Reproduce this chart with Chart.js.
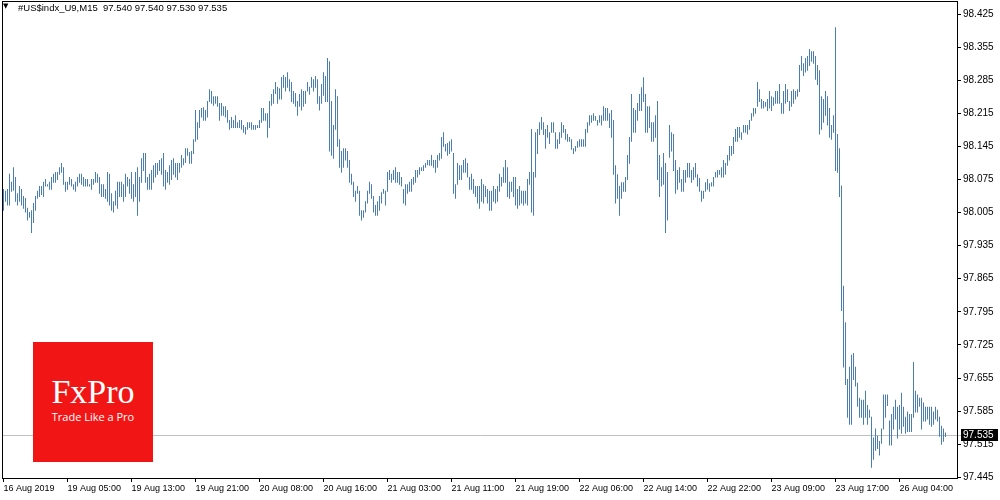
<!DOCTYPE html>
<html>
<head>
<meta charset="utf-8">
<script src="https://cdn.jsdelivr.net/npm/chart.js@4.4.0/dist/chart.umd.min.js"></script>
<style>
  html, body { margin: 0; padding: 0; background: #fff; }
  #wrap { position: relative; width: 1000px; height: 500px; overflow: hidden; }
  #title { position: absolute; left: 0; top: 0; width: 400px; height: 14px; color: #000; }
  #title .tri { position: absolute; left: 3px; top: 2px; font: 7px "DejaVu Sans", sans-serif; }
  #title .txt { position: absolute; left: 18px; top: 2px; font: 9.5px "Liberation Sans", sans-serif; white-space: pre; }
  #logo { position: absolute; left: 33px; top: 342px; width: 120px; height: 120px; background: #f21515; color: #fff; }
  #logo .fx { position: absolute; left: 0; right: 0; top: 33px; text-align: center; font: 34px/34px "Liberation Serif", serif; }
  #logo .tag { position: absolute; left: 0; right: 0; top: 68px; text-align: center; font: 11px/14px "Open Sans", sans-serif; }
</style>
</head>
<body>
<div id="wrap">
  <canvas id="chart" width="1000" height="500"></canvas>
  <div id="title"><span class="tri">▼</span><span class="txt">#US$indx_U9,M15  97.540 97.540 97.530 97.535</span></div>
  <div id="logo"><div class="fx">FxPro</div><div class="tag">Trade Like a Pro</div></div>
</div>
<script>
  // M15 bars, one entry per bar (high / low)
  const barHigh = [
    98.055, 98.051, 98.055, 98.087, 98.070, 98.101, 98.080, 98.046, 98.061, 98.055,
    98.040, 98.036, 98.015, 98.006, 98.010, 98.025, 98.040, 98.051, 98.061, 98.061,
    98.070, 98.076, 98.065, 98.070, 98.080, 98.087, 98.091, 98.091, 98.101, 98.110,
    98.101, 98.070, 98.070, 98.080, 98.076, 98.065, 98.070, 98.080, 98.087, 98.087,
    98.080, 98.076, 98.076, 98.065, 98.076, 98.076, 98.091, 98.087, 98.080, 98.065,
    98.065, 98.055, 98.091, 98.087, 98.046, 98.029, 98.051, 98.070, 98.070, 98.070,
    98.065, 98.087, 98.080, 98.076, 98.091, 98.065, 98.091, 98.101, 98.080, 98.120,
    98.131, 98.131, 98.080, 98.087, 98.095, 98.105, 98.110, 98.110, 98.116, 98.120,
    98.131, 98.095, 98.091, 98.105, 98.116, 98.120, 98.110, 98.110, 98.110, 98.127,
    98.120, 98.141, 98.141, 98.133, 98.135, 98.160, 98.222, 98.196, 98.222, 98.226,
    98.228, 98.222, 98.241, 98.266, 98.262, 98.251, 98.251, 98.251, 98.237, 98.237,
    98.230, 98.230, 98.222, 98.201, 98.207, 98.201, 98.211, 98.196, 98.201, 98.201,
    98.190, 98.186, 98.196, 98.196, 98.196, 98.190, 98.190, 98.190, 98.201, 98.226,
    98.226, 98.215, 98.215, 98.241, 98.256, 98.266, 98.281, 98.271, 98.268, 98.292,
    98.296, 98.292, 98.302, 98.287, 98.281, 98.262, 98.258, 98.241, 98.256, 98.266,
    98.262, 98.262, 98.281, 98.271, 98.292, 98.287, 98.294, 98.287, 98.251, 98.277,
    98.302, 98.294, 98.332, 98.325, 98.241, 98.190, 98.266, 98.251, 98.160, 98.135,
    98.141, 98.141, 98.135, 98.116, 98.087, 98.070, 98.051, 98.061, 98.051, 98.010,
    98.010, 98.029, 98.051, 98.070, 98.065, 98.040, 98.021, 98.029, 98.040, 98.048,
    98.055, 98.051, 98.091, 98.095, 98.087, 98.095, 98.101, 98.091, 98.091, 98.080,
    98.055, 98.065, 98.065, 98.070, 98.076, 98.080, 98.095, 98.095, 98.101, 98.101,
    98.105, 98.110, 98.116, 98.116, 98.127, 98.116, 98.116, 98.127, 98.131, 98.165,
    98.175, 98.150, 98.152, 98.156, 98.160, 98.131, 98.065, 98.110, 98.105, 98.105,
    98.116, 98.120, 98.110, 98.080, 98.087, 98.076, 98.061, 98.061, 98.061, 98.076,
    98.065, 98.061, 98.055, 98.051, 98.051, 98.061, 98.055, 98.061, 98.087, 98.080,
    98.101, 98.116, 98.101, 98.070, 98.070, 98.080, 98.080, 98.055, 98.061, 98.051,
    98.051, 98.051, 98.076, 98.091, 98.182, 98.091, 98.175, 98.182, 98.196, 98.207,
    98.196, 98.182, 98.190, 98.175, 98.196, 98.196, 98.175, 98.160, 98.175, 98.196,
    98.190, 98.182, 98.171, 98.165, 98.160, 98.141, 98.146, 98.156, 98.160, 98.160,
    98.160, 98.182, 98.196, 98.211, 98.211, 98.215, 98.209, 98.201, 98.211, 98.211,
    98.230, 98.226, 98.226, 98.215, 98.222, 98.201, 98.105, 98.086, 98.061, 98.069,
    98.069, 98.080, 98.127, 98.165, 98.256, 98.226, 98.222, 98.237, 98.256, 98.270,
    98.291, 98.256, 98.230, 98.230, 98.196, 98.196, 98.211, 98.241, 98.127, 98.101,
    98.131, 98.110, 98.091, 98.190, 98.175, 98.171, 98.116, 98.095, 98.101, 98.076,
    98.095, 98.095, 98.110, 98.110, 98.095, 98.101, 98.110, 98.086, 98.078, 98.051,
    98.051, 98.069, 98.076, 98.067, 98.069, 98.080, 98.091, 98.095, 98.095, 98.101,
    98.116, 98.110, 98.127, 98.146, 98.146, 98.165, 98.182, 98.186, 98.186, 98.175,
    98.190, 98.190, 98.190, 98.201, 98.215, 98.226, 98.226, 98.281, 98.266, 98.245,
    98.241, 98.239, 98.245, 98.262, 98.251, 98.249, 98.262, 98.262, 98.277, 98.237,
    98.262, 98.277, 98.266, 98.241, 98.262, 98.266, 98.262, 98.266, 98.317, 98.336,
    98.321, 98.332, 98.336, 98.351, 98.346, 98.346, 98.336, 98.317, 98.306, 98.251,
    98.245, 98.262, 98.251, 98.226, 98.190, 98.211, 98.397, 98.171, 98.141, 98.062,
    97.850, 97.773, 97.653, 97.679, 97.704, 97.708, 97.679, 97.645, 97.613, 97.609,
    97.609, 97.628, 97.598, 97.588, 97.573, 97.529, 97.548, 97.533, 97.522, 97.548,
    97.620, 97.620, 97.620, 97.565, 97.579, 97.594, 97.609, 97.594, 97.598, 97.624,
    97.594, 97.573, 97.584, 97.579, 97.579, 97.689, 97.628, 97.620, 97.613, 97.613,
    97.603, 97.594, 97.594, 97.594, 97.594, 97.584, 97.594, 97.588, 97.573, 97.554,
    97.548, 97.540
  ];
  const barLow = [
    98.009, 98.028, 98.020, 98.020, 98.049, 98.051, 98.028, 98.020, 98.028, 98.020,
    98.013, 98.005, 97.988, 97.994, 97.962, 97.983, 98.009, 98.034, 98.038, 98.042,
    98.038, 98.060, 98.060, 98.053, 98.053, 98.068, 98.068, 98.074, 98.085, 98.089,
    98.064, 98.049, 98.053, 98.064, 98.060, 98.053, 98.049, 98.060, 98.068, 98.064,
    98.060, 98.060, 98.060, 98.060, 98.053, 98.064, 98.068, 98.068, 98.045, 98.038,
    98.038, 98.034, 98.028, 98.020, 98.009, 98.005, 98.020, 98.013, 98.038, 98.038,
    98.028, 98.038, 98.060, 98.045, 98.034, 98.028, 98.038, 97.998, 98.028, 98.068,
    98.093, 98.068, 98.053, 98.053, 98.053, 98.068, 98.079, 98.085, 98.093, 98.085,
    98.060, 98.053, 98.068, 98.064, 98.074, 98.085, 98.079, 98.074, 98.089, 98.100,
    98.105, 98.110, 98.125, 98.108, 98.108, 98.129, 98.155, 98.159, 98.184, 98.206,
    98.199, 98.199, 98.206, 98.239, 98.235, 98.231, 98.235, 98.229, 98.199, 98.210,
    98.210, 98.206, 98.195, 98.180, 98.184, 98.184, 98.184, 98.184, 98.184, 98.180,
    98.174, 98.170, 98.180, 98.184, 98.180, 98.180, 98.180, 98.184, 98.184, 98.195,
    98.199, 98.199, 98.163, 98.184, 98.231, 98.235, 98.256, 98.235, 98.244, 98.244,
    98.269, 98.261, 98.269, 98.261, 98.239, 98.235, 98.229, 98.210, 98.229, 98.221,
    98.229, 98.235, 98.261, 98.254, 98.269, 98.261, 98.269, 98.235, 98.221, 98.235,
    98.252, 98.239, 98.239, 98.134, 98.125, 98.119, 98.180, 98.144, 98.100, 98.089,
    98.100, 98.115, 98.100, 98.068, 98.064, 98.038, 98.028, 98.045, 97.998, 97.988,
    97.994, 98.005, 98.024, 98.045, 98.034, 98.005, 97.998, 97.998, 98.009, 98.024,
    98.045, 98.020, 98.049, 98.074, 98.068, 98.074, 98.068, 98.068, 98.064, 98.060,
    98.024, 98.020, 98.045, 98.049, 98.049, 98.064, 98.068, 98.079, 98.085, 98.093,
    98.093, 98.100, 98.105, 98.104, 98.104, 98.100, 98.089, 98.100, 98.115, 98.119,
    98.144, 98.134, 98.125, 98.129, 98.134, 98.045, 98.034, 98.064, 98.074, 98.074,
    98.089, 98.089, 98.079, 98.053, 98.053, 98.045, 98.038, 98.024, 98.013, 98.028,
    98.024, 98.038, 98.024, 98.009, 98.009, 98.028, 98.024, 98.028, 98.049, 98.060,
    98.068, 98.068, 98.038, 98.034, 98.049, 98.038, 98.020, 98.013, 98.020, 98.024,
    98.020, 98.024, 98.020, 98.064, 98.005, 97.998, 98.079, 98.129, 98.169, 98.180,
    98.169, 98.140, 98.163, 98.150, 98.174, 98.174, 98.140, 98.140, 98.150, 98.163,
    98.174, 98.159, 98.155, 98.155, 98.138, 98.129, 98.134, 98.142, 98.144, 98.144,
    98.144, 98.144, 98.174, 98.189, 98.195, 98.199, 98.199, 98.189, 98.195, 98.189,
    98.199, 98.199, 98.199, 98.184, 98.163, 98.085, 98.024, 98.034, 97.998, 98.034,
    98.049, 98.049, 98.074, 98.108, 98.155, 98.174, 98.174, 98.199, 98.220, 98.220,
    98.239, 98.174, 98.174, 98.184, 98.155, 98.155, 98.163, 98.074, 98.038, 98.060,
    98.064, 97.962, 97.988, 98.121, 98.134, 98.093, 98.045, 98.053, 98.068, 98.049,
    98.049, 98.068, 98.079, 98.079, 98.068, 98.074, 98.079, 98.060, 98.049, 98.028,
    98.034, 98.049, 98.053, 98.049, 98.060, 98.060, 98.079, 98.079, 98.085, 98.079,
    98.079, 98.085, 98.104, 98.115, 98.125, 98.129, 98.155, 98.155, 98.163, 98.159,
    98.174, 98.174, 98.170, 98.180, 98.199, 98.208, 98.214, 98.229, 98.239, 98.225,
    98.225, 98.229, 98.220, 98.225, 98.220, 98.231, 98.235, 98.235, 98.235, 98.214,
    98.214, 98.235, 98.239, 98.220, 98.229, 98.235, 98.244, 98.250, 98.260, 98.305,
    98.294, 98.301, 98.305, 98.315, 98.324, 98.320, 98.286, 98.275, 98.170, 98.180,
    98.195, 98.210, 98.189, 98.163, 98.159, 98.174, 98.093, 98.089, 98.038, 97.797,
    97.677, 97.640, 97.571, 97.556, 97.556, 97.651, 97.637, 97.594, 97.571, 97.571,
    97.556, 97.571, 97.556, 97.571, 97.465, 97.482, 97.501, 97.505, 97.491, 97.516,
    97.546, 97.571, 97.596, 97.512, 97.512, 97.546, 97.567, 97.527, 97.546, 97.537,
    97.552, 97.537, 97.541, 97.541, 97.541, 97.571, 97.582, 97.582, 97.594, 97.546,
    97.563, 97.563, 97.567, 97.556, 97.552, 97.556, 97.567, 97.563, 97.531, 97.514,
    97.520, 97.530
  ];
  const lastClose = 97.535;

  // time axis: a label every 32 bars (8 hours of M15)
  const timeLabels = ['16 Aug 2019', '19 Aug 05:00', '19 Aug 13:00', '19 Aug 21:00', '20 Aug 08:00',
    '20 Aug 16:00', '21 Aug 03:00', '21 Aug 11:00', '21 Aug 19:00', '22 Aug 06:00',
    '22 Aug 14:00', '22 Aug 22:00', '23 Aug 09:00', '23 Aug 17:00', '26 Aug 04:00'];
  const labelBars = [0, 32, 64, 96, 128, 160, 192, 224, 256, 288, 320, 352, 384, 416, 448];

  const priceTicks = [97.445, 97.515, 97.585, 97.655, 97.725, 97.795, 97.865, 97.935,
    98.005, 98.075, 98.145, 98.215, 98.285, 98.355, 98.425];

  const fontSmall = { family: 'Liberation Sans', size: 9 };
  const fontAxis = { family: 'Liberation Sans', size: 10 };

  // frame, current price line and price tag
  const terminal = {
    id: 'terminal',
    beforeDatasetsDraw(chart) {
      const { ctx, chartArea: a, scales: { y } } = chart;
      const py = Math.round(y.getPixelForValue(lastClose)) + 0.5;
      ctx.save();
      ctx.strokeStyle = '#c0c0c0';
      ctx.lineWidth = 1;
      ctx.beginPath();
      ctx.moveTo(a.left, py);
      ctx.lineTo(a.right + 4, py);
      ctx.stroke();
      ctx.restore();
    },
    afterDraw(chart) {
      const { ctx, chartArea: a, scales: { y } } = chart;
      ctx.save();
      ctx.strokeStyle = '#000';
      ctx.lineWidth = 1;
      ctx.strokeRect(a.left + 0.5, a.top + 0.5, a.right - a.left, a.bottom - a.top);
      const py = Math.round(y.getPixelForValue(lastClose));
      ctx.fillStyle = '#000';
      ctx.fillRect(a.right + 4, py - 6, 37, 12);
      ctx.fillStyle = '#fff';
      ctx.font = '10px "Liberation Sans"';
      ctx.textBaseline = 'middle';
      ctx.fillText(lastClose.toFixed(3), a.right + 6, py + 0.5);
      ctx.restore();
    }
  };

  new Chart(document.getElementById('chart'), {
    type: 'bar',
    data: {
      datasets: [{
        data: barHigh.map((h, i) => ({ x: i, y: [barLow[i], h] })),
        backgroundColor: '#4a7eb0',
        borderWidth: 0,
        barThickness: 1,
        inflateAmount: 0
      }]
    },
    options: {
      responsive: false,
      animation: false,
      devicePixelRatio: 1,
      layout: { padding: { left: 2, top: 1, right: 0, bottom: 0 } },
      plugins: { legend: { display: false }, tooltip: { enabled: false } },
      scales: {
        x: {
          type: 'linear',
          min: -0.75,
          max: 476.75,
          offset: false,
          afterBuildTicks: s => { s.ticks = labelBars.map(v => ({ value: v })); },
          afterFit: s => { s.height = 22; s.paddingLeft = 0; s.paddingRight = 0; },
          grid: { offset: false, drawOnChartArea: false, drawTicks: true, tickLength: 4, color: '#000' },
          border: { display: false },
          ticks: {
            align: 'start',
            autoSkip: false,
            maxRotation: 0,
            padding: 1,
            color: '#000',
            font: fontSmall,
            callback: (v, i) => timeLabels[i]
          }
        },
        y: {
          type: 'linear',
          position: 'right',
          min: 97.4435,
          max: 98.4525,
          afterBuildTicks: s => { s.ticks = priceTicks.map(v => ({ value: v })); },
          afterFit: s => { s.width = 43; s.paddingTop = 0; s.paddingBottom = 0; },
          grid: { drawOnChartArea: false, drawTicks: true, tickLength: 4, color: '#000' },
          border: { display: false },
          ticks: {
            padding: 2,
            color: '#000',
            font: fontAxis,
            callback: v => v.toFixed(3)
          }
        }
      }
    },
    plugins: [terminal]
  });
</script>
</body>
</html>
